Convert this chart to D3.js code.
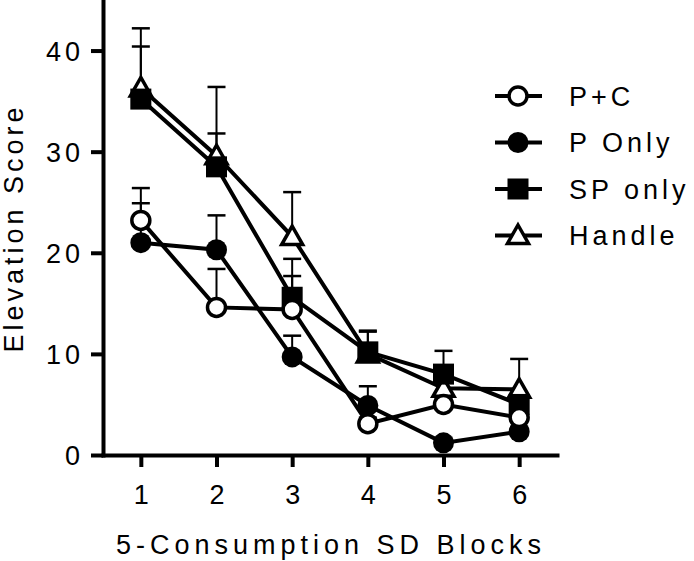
<!DOCTYPE html>
<html>
<head>
<meta charset="utf-8">
<script src="https://cdn.jsdelivr.net/npm/d3@7"></script>
<style>
  body { margin: 0; background: #fff; }
  svg text { font-family: "Liberation Sans", Arial, sans-serif; fill: #000; }
</style>
</head>
<body>
<div id="chart"></div>
<script>
// data
const blocks = [1, 2, 3, 4, 5, 6];
const yTicks = [0, 10, 20, 30, 40];
const groupNames = [`P+C`, `P Only`, `SP only`, `Handle`];

const pcMean = [23.2, 14.6, 14.4, 3.1, 5.0, 3.7];
const pcErr = [3.2, 3.8, 3.3, 0.6, 0.6, 0.6];
const pOnlyMean = [21.0, 20.3, 9.7, 4.9, 1.2, 2.3];
const pOnlyErr = [3.9, 3.4, 2.1, 1.9, 0.5, 0.5];
const spMean = [35.2, 28.5, 15.6, 10.2, 8.0, 5.0];
const spErr = [5.2, 3.3, 3.8, 2.1, 2.3, 0.8];
const handleMean = [36.3, 29.6, 21.6, 10.0, 6.6, 6.5];
const handleErr = [5.9, 6.8, 4.4, 2.2, 1.0, 3.0];

const W = 694, H = 561;
const AXIS_X = 103, AXIS_Y = 455;
const FONT = `27px`;

let svg = d3.select(`#chart`).append(`svg`)
  .attr(`width`, W)
  .attr(`height`, H);

let x = d3.scaleLinear().domain([0.5, 6.5]).range([AXIS_X, 557]);
let y = d3.scaleLinear().domain([0, 45]).range([AXIS_Y, 0]);

// axes
let yAxis = svg.append(`g`)
  .attr(`transform`, `translate(${AXIS_X},0)`)
  .call(d3.axisLeft(y).tickValues(yTicks).tickFormat(d3.format(`d`))
    .tickSize(12).tickSizeOuter(0).tickPadding(7));
let xAxis = svg.append(`g`)
  .attr(`transform`, `translate(0,${AXIS_Y})`)
  .call(d3.axisBottom(x).tickValues(blocks).tickFormat(d3.format(`d`))
    .tickSize(12).tickSizeOuter(0).tickPadding(18));

[yAxis, xAxis].forEach((ax) => {
  ax.select(`.domain`).attr(`stroke-width`, 4).attr(`stroke-linecap`, `square`);
  ax.selectAll(`.tick line`).attr(`stroke-width`, 4);
  ax.selectAll(`.tick text`)
    .style(`font-size`, FONT)
    .style(`letter-spacing`, `4px`);
});
yAxis.selectAll(`.tick text`).attr(`dy`, `0.36em`);
xAxis.selectAll(`.tick text`).attr(`dx`, `2px`);

// axis titles
svg.append(`text`)
  .attr(`x`, 331).attr(`y`, 554)
  .attr(`text-anchor`, `middle`)
  .style(`font-size`, FONT)
  .style(`letter-spacing`, `5px`)
  .text(`5-Consumption SD Blocks`);
svg.append(`text`)
  .attr(`transform`, `translate(23,228) rotate(-90)`)
  .attr(`text-anchor`, `middle`)
  .style(`font-size`, FONT)
  .style(`letter-spacing`, `4px`)
  .text(`Elevation Score`);

// symbols
function drawMarker(g, kind){
  if (kind === `openCircle`) {
    g.append(`circle`).attr(`r`, 9).attr(`fill`, `#fff`).attr(`stroke`, `#000`).attr(`stroke-width`, 3.5);
  } else if (kind === `circle`) {
    g.append(`circle`).attr(`r`, 10.5).attr(`fill`, `#000`);
  } else if (kind === `square`) {
    g.append(`rect`).attr(`x`, -10.5).attr(`y`, -10.5).attr(`width`, 21).attr(`height`, 21).attr(`fill`, `#000`);
  } else {
    g.append(`path`).attr(`d`, `M0,-10.5L10.5,8L-10.5,8Z`)
      .attr(`fill`, `#fff`).attr(`stroke`, `#000`).attr(`stroke-width`, 3.5).attr(`stroke-linejoin`, `miter`);
  }
}

// drawing order bottom to top
let series = [
  { name: groupNames[3], mean: handleMean, err: handleErr, marker: `openTriangle` },
  { name: groupNames[2], mean: spMean, err: spErr, marker: `square` },
  { name: groupNames[1], mean: pOnlyMean, err: pOnlyErr, marker: `circle` },
  { name: groupNames[0], mean: pcMean, err: pcErr, marker: `openCircle` },
];

let line = d3.line().x((d) => x(d.b)).y((d) => y(d.m));

// error bars (upper only) go under everything
series.forEach((s) => {
  let g = svg.append(`g`).attr(`class`, `errorBars`);
  blocks.forEach((b, i) => {
    let top = y(s.mean[i] + s.err[i]);
    g.append(`line`)
      .attr(`x1`, x(b)).attr(`x2`, x(b))
      .attr(`y1`, y(s.mean[i])).attr(`y2`, top)
      .attr(`stroke`, `#000`).attr(`stroke-width`, 2);
    g.append(`line`)
      .attr(`x1`, x(b) - 9).attr(`x2`, x(b) + 9)
      .attr(`y1`, top).attr(`y2`, top)
      .attr(`stroke`, `#000`).attr(`stroke-width`, 2.5);
  });
});

series.forEach((s) => {
  let pts = blocks.map((b, i) => ({ b: b, m: s.mean[i] }));
  svg.append(`path`)
    .datum(pts)
    .attr(`d`, line)
    .attr(`fill`, `none`)
    .attr(`stroke`, `#000`)
    .attr(`stroke-width`, 4);
});

series.forEach((s) => {
  blocks.forEach((b, i) => {
    let g = svg.append(`g`).attr(`transform`, `translate(${x(b)},${y(s.mean[i])})`);
    drawMarker(g, s.marker);
  });
});

// legend
let legendOrder = [series[3], series[2], series[1], series[0]];
legendOrder.forEach((s, i) => {
  let ly = 96 + i * 46.5;
  let g = svg.append(`g`).attr(`transform`, `translate(518,${ly})`);
  g.append(`line`).attr(`x1`, -23).attr(`x2`, 24).attr(`stroke`, `#000`).attr(`stroke-width`, 4);
  drawMarker(g, s.marker);
  svg.append(`text`)
    .attr(`x`, 569).attr(`y`, ly)
    .attr(`dy`, `0.36em`)
    .style(`font-size`, FONT)
    .style(`letter-spacing`, `4px`)
    .text(s.name);
});
</script>
</body>
</html>
